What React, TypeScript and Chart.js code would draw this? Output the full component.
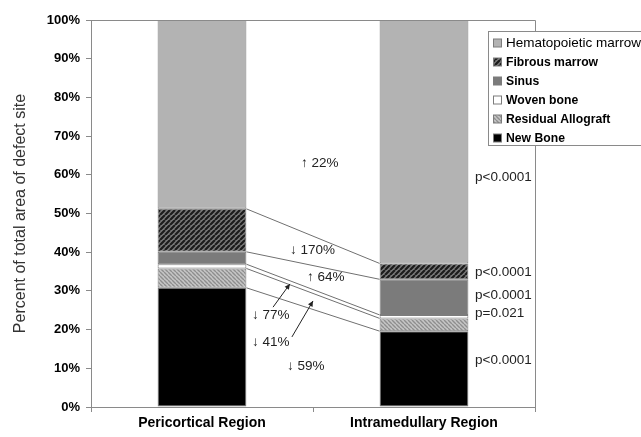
import React, { useEffect, useRef } from "react";
import { Chart, registerables } from "chart.js";

Chart.register(...registerables);

const FONT = "'Liberation Sans', Arial, Helvetica, sans-serif";

// ---- data ----
const categories = ["Pericortical Region", "Intramedullary Region"];
const seriesNames = ["New Bone", "Residual Allograft", "Woven bone", "Sinus", "Fibrous marrow", "Hematopoietic marrow"];
const newBone = [30.8, 19.6];
const residualAllograft = [5.0, 3.3];
const wovenBone = [1.1, 0.9];
const sinus = [3.2, 9.2];
const fibrousMarrow = [11.1, 4.1];
const hematopoieticMarrow = [48.8, 62.9];
const yTickLabels = ["0%", "10%", "20%", "30%", "40%", "50%", "60%", "70%", "80%", "90%", "100%"];
const yAxisTitle = "Percent of total area of defect site";
const changeLabels = ["\u2191 22%", "\u2193 170%", "\u2191 64%", "\u2193 77%", "\u2193 41%", "\u2193 59%"];
const pValueLabels = ["p<0.0001", "p<0.0001", "p<0.0001", "p=0.021", "p<0.0001"];

// ---- annotation placement (axis units: x = category index, y = percent) ----
const changeAnchors = [
  [0.446, 63.0],
  [0.396, 40.6],
  [0.473, 33.6],
  [0.225, 23.8],
  [0.225, 16.8],
  [0.383, 10.6],
];
const pValueX = 1.23;
const pValueY = [59.4, 34.9, 28.9, 24.3, 12.1];
const arrowAnchors = [
  [0.32, 25.8, 0.396, 31.8],
  [0.405, 18.1, 0.5, 27.4],
];

function makeStripes(bg: string, fg: string, size: number, dir: number, lw: number) {
  const c = document.createElement("canvas");
  c.width = size;
  c.height = size;
  const g = c.getContext("2d")!;
  g.fillStyle = bg;
  g.fillRect(0, 0, size, size);
  g.strokeStyle = fg;
  g.lineWidth = lw;
  g.beginPath();
  for (let k = -1; k <= 1; k++) {
    if (dir > 0) {
      g.moveTo(k * size, size);
      g.lineTo(k * size + size, 0);
    } else {
      g.moveTo(k * size, 0);
      g.lineTo(k * size + size, size);
    }
  }
  g.stroke();
  return g.createPattern(c, "repeat")!;
}

export default function App() {
  const ref = useRef<HTMLCanvasElement | null>(null);

  useEffect(() => {
    const canvas = ref.current!;
    const fibrousPat = makeStripes("#7a7a7a", "#1c1c1c", 5, 1, 2.2);
    const residualPat = makeStripes("#c6c6c6", "#8e8e8e", 4, -1, 1.4);

    const values = [newBone, residualAllograft, wovenBone, sinus, fibrousMarrow, hematopoieticMarrow];
    const fills: any[] = ["#000000", residualPat, "#ffffff", "#7b7b7b", fibrousPat, "#b3b3b3"];

    const datasets = values.map((v, i) => ({
      label: seriesNames[i],
      data: v,
      backgroundColor: fills[i],
      borderColor: "#7c7c7c",
      borderWidth: 1,
      borderSkipped: false as any,
      barPercentage: 0.4,
      categoryPercentage: 1.0,
    }));

    const overlay = {
      id: "overlay",
      afterDatasetsDraw(chart: any) {
        const ctx = chart.ctx;
        const ys = chart.scales.y;
        const m0 = chart.getDatasetMeta(0);
        const left = m0.data[0];
        const right = m0.data[1];
        const xL = left.x + left.width / 2;
        const xR = right.x - right.width / 2;
        ctx.save();
        ctx.strokeStyle = "#707070";
        ctx.lineWidth = 1;
        let c0 = 0;
        let c1 = 0;
        for (let k = 0; k < values.length - 1; k++) {
          c0 += values[k][0];
          c1 += values[k][1];
          ctx.beginPath();
          ctx.moveTo(xL, ys.getPixelForValue(c0));
          ctx.lineTo(xR, ys.getPixelForValue(c1));
          ctx.stroke();
        }
        ctx.restore();
      },
      afterDraw(chart: any) {
        const ctx = chart.ctx;
        const xs = chart.scales.x;
        const ys = chart.scales.y;
        const area = chart.chartArea;
        ctx.save();
        // frame top & right
        ctx.strokeStyle = "#8a8a8a";
        ctx.lineWidth = 1;
        ctx.beginPath();
        ctx.moveTo(area.left, Math.round(area.top) + 0.5);
        ctx.lineTo(Math.round(area.right) + 0.5, Math.round(area.top) + 0.5);
        ctx.lineTo(Math.round(area.right) + 0.5, area.bottom);
        ctx.stroke();

        // change annotations
        ctx.fillStyle = "#222";
        ctx.font = `13.5px ${FONT}`;
        ctx.textAlign = "left";
        ctx.textBaseline = "middle";
        changeLabels.forEach((t, i) => {
          const [ax, ay] = changeAnchors[i];
          ctx.fillText(t, xs.getPixelForValue(ax), ys.getPixelForValue(ay));
        });
        // p-values
        pValueLabels.forEach((t, i) => {
          ctx.fillText(t, xs.getPixelForValue(pValueX), ys.getPixelForValue(pValueY[i]));
        });
        // arrows
        ctx.strokeStyle = "#222";
        ctx.fillStyle = "#222";
        arrowAnchors.forEach(([x0, y0, x1, y1]) => {
          const px0 = xs.getPixelForValue(x0);
          const py0 = ys.getPixelForValue(y0);
          const px1 = xs.getPixelForValue(x1);
          const py1 = ys.getPixelForValue(y1);
          ctx.beginPath();
          ctx.moveTo(px0, py0);
          ctx.lineTo(px1, py1);
          ctx.stroke();
          const ang = Math.atan2(py1 - py0, px1 - px0);
          const L = 6;
          const W = 0.45;
          ctx.beginPath();
          ctx.moveTo(px1, py1);
          ctx.lineTo(px1 - L * Math.cos(ang - W), py1 - L * Math.sin(ang - W));
          ctx.lineTo(px1 - L * Math.cos(ang + W), py1 - L * Math.sin(ang + W));
          ctx.closePath();
          ctx.fill();
        });

        // legend
        const lx = 488.5;
        const ly = 31.5;
        ctx.fillStyle = "#ffffff";
        ctx.fillRect(lx, ly, 170, 114);
        ctx.strokeStyle = "#8a8a8a";
        ctx.strokeRect(lx, ly, 170, 114);
        const order = [5, 4, 3, 2, 1, 0];
        order.forEach((di, row) => {
          const cy = 43.5 + row * 19;
          ctx.fillStyle = fills[di];
          ctx.fillRect(493.5, cy - 4.5, 8, 8);
          ctx.strokeStyle = "#7c7c7c";
          ctx.strokeRect(493.5, cy - 4.5, 8, 8);
          ctx.fillStyle = "#000";
          ctx.font = di === 5 ? `13.5px ${FONT}` : `bold 12.2px ${FONT}`;
          ctx.textAlign = "left";
          ctx.textBaseline = "middle";
          ctx.fillText(seriesNames[di], 506, cy);
        });
        ctx.restore();
      },
    };

    const chart = new Chart(canvas, {
      type: "bar",
      data: { labels: categories, datasets },
      options: {
        responsive: false,
        animation: false,
        devicePixelRatio: 1,
        layout: { padding: { left: 0, right: 106, top: 20, bottom: 0 } },
        plugins: { legend: { display: false }, tooltip: { enabled: false } },
        scales: {
          x: {
            stacked: true,
            offset: true,
            grid: {
              display: true,
              drawOnChartArea: false,
              drawTicks: true,
              tickLength: 5,
              color: "#8a8a8a",
              offset: true,
            },
            border: { display: true, color: "#8a8a8a" },
            ticks: {
              color: "#000",
              font: { family: FONT, size: 14, weight: "bold" },
              padding: 3,
              maxRotation: 0,
            },
            afterFit: (s: any) => {
              s.height = 30;
            },
          },
          y: {
            stacked: true,
            min: 0,
            max: 100,
            grid: {
              display: true,
              drawOnChartArea: false,
              drawTicks: true,
              tickLength: 5,
              color: "#8a8a8a",
            },
            border: { display: true, color: "#8a8a8a" },
            ticks: {
              stepSize: 10,
              color: "#000",
              font: { family: FONT, size: 13, weight: "bold" },
              padding: 6,
              callback: (_v: any, i: number) => yTickLabels[i],
            },
            title: {
              display: true,
              text: yAxisTitle,
              color: "#333",
              font: { family: FONT, size: 16 },
              padding: { top: 11, bottom: 0 },
            },
            afterFit: (s: any) => {
              s.width = 91;
            },
          },
        },
      } as any,
      plugins: [overlay],
    });
    return () => chart.destroy();
  }, []);

  return (
    <div style={{ position: "absolute", left: 0, top: 0, width: 641, height: 437, background: "#fff" }}>
      <canvas ref={ref} width={641} height={437} style={{ display: "block", width: 641, height: 437 }} />
    </div>
  );
}
